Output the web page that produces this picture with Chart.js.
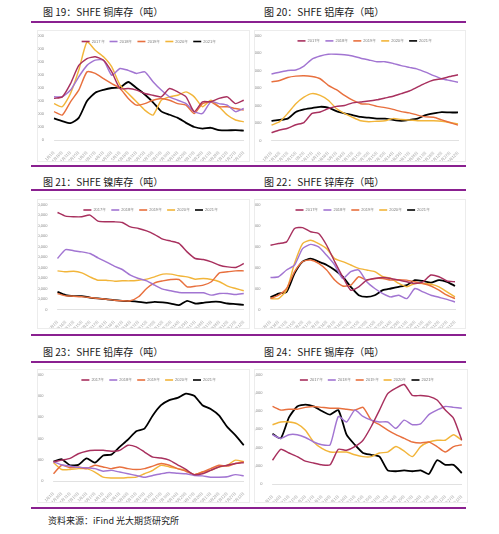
<!DOCTYPE html>
<html>
<head>
<meta charset="utf-8">
<script src="https://cdn.jsdelivr.net/npm/chart.js@4.4.1/dist/chart.umd.min.js"></script>
<style>
  body { margin: 0; background: #fff; }
  #page { position: relative; width: 499px; height: 534px; background: #fff; overflow: hidden; }
  .title { position: absolute; height: 12px; line-height: 12px; font-family: "Noto Sans CJK SC", sans-serif; font-size: 10px; font-weight: 400; color: #1a1a1a; white-space: nowrap; }
  .rule { position: absolute; left: 31px; width: 435px; height: 2px; background: #8a2090; }
  .box { position: absolute; border: 1px solid #ececec; box-sizing: border-box; }
  .box canvas { position: absolute; left: 0; top: 0; }
  #source { position: absolute; left: 48px; top: 514px; font-family: "Noto Sans CJK SC", sans-serif; font-size: 9px; color: #222; white-space: nowrap; }
</style>
</head>
<body>
<div id="page">
  <div class="title" style="left:43px;top:6px">图 19：SHFE 铜库存（吨）</div>
  <div class="title" style="left:264px;top:6px">图 20：SHFE 铝库存（吨）</div>
  <div class="rule" style="top:21px"></div>
  <div class="box" style="left:37px;top:30px;width:213px;height:132px"><canvas id="c1"></canvas></div>
  <div class="box" style="left:254px;top:30px;width:212px;height:132px"><canvas id="c2"></canvas></div>
  <div class="rule" style="top:165px"></div>

  <div class="title" style="left:43px;top:176px">图 21：SHFE 镍库存（吨）</div>
  <div class="title" style="left:264px;top:176px">图 22：SHFE 锌库存（吨）</div>
  <div class="rule" style="top:189px"></div>
  <div class="box" style="left:37px;top:199px;width:213px;height:130px"><canvas id="c3"></canvas></div>
  <div class="box" style="left:254px;top:199px;width:212px;height:130px"><canvas id="c4"></canvas></div>
  <div class="rule" style="top:334px"></div>

  <div class="title" style="left:43px;top:346px">图 23：SHFE 铅库存（吨）</div>
  <div class="title" style="left:264px;top:346px">图 24：SHFE 锡库存（吨）</div>
  <div class="rule" style="top:361px"></div>
  <div class="box" style="left:37px;top:369px;width:213px;height:134px"><canvas id="c5"></canvas></div>
  <div class="box" style="left:254px;top:369px;width:214px;height:134px"><canvas id="c6"></canvas></div>
  <div class="rule" style="top:507px"></div>

  <div id="source">资料来源：iFind 光大期货研究所</div>
</div>

<script>
// shared x axis (roughly every two weeks)
var dates = ['1月1日', '1月16日', '1月31日', '2月15日', '3月2日', '3月17日', '4月1日', '4月16日',
    '5月1日', '5月16日', '5月31日', '6月15日', '6月30日', '7月15日', '7月30日', '8月14日',
    '8月29日', '9月13日', '9月28日', '10月13日', '10月28日', '11月12日', '11月27日', '12月12日'];
var years = ['2017年', '2018年', '2019年', '2020年', '2021年'];
var colors = ['#a8305e', '#a275d2', '#e8703e', '#f2b53a', '#000000'];

// 图19 铜
var cu2017 = [16000, 16600, 21700, 28700, 31300, 32000, 30700, 26200, 19800, 19800, 19200, 17900, 17200, 16600, 19800, 18500, 16600, 10900, 14700, 14700, 16000, 16600, 14000, 15300];
var cu2018 = [16600, 16600, 19200, 24300, 28700, 30700, 30700, 24900, 27500, 26800, 25600, 26200, 22400, 19200, 16600, 15300, 14000, 10900, 10200, 14700, 14000, 13400, 10900, 12100];
var cu2019 = [10900, 9600, 14700, 19200, 26200, 25600, 23600, 21700, 19800, 16000, 13400, 14000, 15300, 16000, 15300, 14000, 13400, 10200, 14000, 14700, 12800, 12800, 12100, 11500];
var cu2020 = [14000, 12800, 17900, 26800, 37700, 34500, 32000, 28100, 21100, 17900, 14700, 11500, 9600, 15300, 16600, 17200, 18500, 16600, 12800, 15300, 12800, 9600, 7700, 7000];
var cu2021 = [8300, 7300, 6500, 8500, 15000, 18200, 19300, 20000, 20200, 22300, 20000, 17500, 14500, 11000, 9700, 8500, 6600, 5000, 4400, 4700, 3800, 3700, 3800, 3600];

// 图20 铝
var al2017 = [900, 1200, 1400, 1800, 2050, 3100, 3250, 3650, 3900, 4000, 4300, 4400, 4500, 4650, 4850, 5050, 5350, 5650, 6100, 6550, 6900, 7050, 7300, 7500];
var al2018 = [7600, 7800, 8000, 8050, 8500, 9300, 9650, 9850, 9850, 9800, 9650, 9400, 9200, 9000, 9000, 8800, 8550, 8350, 8150, 7800, 7400, 7050, 6850, 6650];
var al2019 = [6700, 6850, 7200, 7350, 7400, 7300, 7050, 6300, 5800, 5150, 4600, 4200, 4150, 3900, 3750, 3550, 3300, 3150, 2900, 2700, 2650, 2350, 2050, 1750];
var al2020 = [1750, 2150, 3100, 4200, 4950, 5350, 5150, 4600, 3650, 3100, 2650, 2250, 2150, 2200, 2250, 2500, 2400, 2350, 2250, 2250, 2250, 2200, 2050, 1900];
var al2021 = [2250, 2350, 2500, 3250, 3550, 3700, 3850, 3750, 3350, 3100, 2900, 2700, 2600, 2500, 2500, 2350, 2250, 2350, 2500, 2900, 3100, 3250, 3200, 3200];

// 图21 镍
var ni2017 = [92400, 88900, 88300, 88300, 89900, 84100, 83500, 83500, 82900, 78700, 77200, 74900, 71400, 67000, 65100, 62900, 54900, 48600, 47600, 45400, 42200, 40600, 40000, 43800];
var ni2018 = [48600, 57100, 55900, 54900, 53300, 49200, 45400, 41300, 38100, 32700, 29500, 27300, 23200, 19400, 17800, 16200, 15900, 15900, 15900, 13700, 15200, 15200, 14300, 15200];
var ni2019 = [15200, 13000, 12700, 12100, 11400, 10500, 9800, 8900, 8300, 8300, 12100, 20000, 25400, 27300, 28600, 28600, 21600, 22200, 23200, 26400, 34900, 35900, 36800, 36800];
var ni2020 = [36800, 35900, 36500, 34900, 31100, 27900, 27900, 27000, 27300, 27300, 27900, 28900, 31100, 33700, 33700, 32100, 31100, 28900, 29500, 28600, 26400, 22200, 20000, 17800];
var ni2021 = [16800, 13700, 12700, 12700, 11400, 10500, 9800, 8900, 8300, 7900, 7300, 6400, 7300, 6700, 5700, 4100, 8300, 5700, 6400, 7300, 7300, 5700, 5100, 4400];

// 图22 锌
var zn2017 = [15300, 15700, 16100, 19300, 19500, 18500, 18100, 15300, 11400, 7800, 4600, 5400, 7000, 7400, 7600, 7400, 7000, 6600, 6200, 6600, 8200, 7800, 6800, 6600];
var zn2018 = [7600, 7800, 9400, 10600, 14500, 15500, 14900, 12900, 10600, 7400, 9000, 9400, 6600, 5000, 3800, 3000, 3400, 2600, 5000, 4200, 3400, 2900, 2400, 1800];
var zn2019 = [2600, 3400, 5000, 9000, 11400, 11800, 11000, 9400, 7000, 5600, 5800, 7800, 7000, 7400, 7400, 7000, 7100, 7000, 6600, 6200, 5600, 4600, 3400, 2600];
var zn2020 = [2600, 2600, 4600, 11000, 15700, 16500, 15700, 14500, 12100, 11400, 10600, 9800, 9400, 9000, 7800, 7400, 6200, 5400, 6200, 6200, 6000, 5400, 4200, 3000];
var zn2021 = [2900, 3800, 4200, 8600, 11400, 12100, 11400, 10600, 9400, 7800, 5400, 3400, 3000, 3400, 4600, 5000, 5400, 5800, 7000, 6800, 6400, 7000, 6600, 5600];

// 图23 铅
var pb2017 = [4500, 4900, 5300, 6400, 7000, 7200, 7200, 7000, 7200, 8400, 8000, 6800, 5600, 5400, 4900, 3800, 2700, 1500, 1700, 2500, 3300, 3700, 4100, 4300];
var pb2018 = [4500, 3800, 3500, 3200, 3100, 2900, 2300, 2500, 2100, 1700, 1300, 900, 1300, 1700, 2000, 1800, 1700, 1300, 1200, 900, 900, 1000, 1500, 1200];
var pb2019 = [1700, 3700, 3100, 3300, 2900, 3700, 3300, 2900, 3300, 2900, 2700, 2900, 3500, 4100, 3700, 2900, 2300, 1500, 2100, 2900, 3700, 3500, 4100, 4500];
var pb2020 = [4300, 2700, 2700, 2900, 2900, 2100, 900, 700, 700, 800, 900, 1700, 2500, 3700, 3300, 2900, 2500, 1500, 2100, 2500, 3300, 3700, 4900, 4500];
var pb2021 = [4600, 5100, 3700, 3800, 5300, 4300, 6000, 6200, 8000, 9700, 11700, 12300, 15400, 17800, 19000, 19500, 20500, 20000, 17800, 16900, 15400, 12700, 10700, 8400];

// 图24 锡
var sn2017 = [2600, 3800, 3400, 3000, 2500, 2300, 2100, 2100, 3800, 3700, 4100, 4800, 6300, 8100, 9900, 10500, 10900, 9700, 9700, 9600, 9200, 8100, 7200, 4800];
var sn2018 = [5400, 5000, 5400, 5400, 5100, 4600, 4300, 4300, 7400, 6800, 8100, 7400, 7000, 6800, 6800, 6100, 7000, 6500, 6600, 7600, 8100, 8500, 8400, 8300];
var sn2019 = [8500, 8100, 8200, 8200, 8400, 8500, 8400, 8300, 8300, 8200, 8100, 8400, 7000, 6500, 5900, 5400, 5000, 4600, 4500, 4600, 4100, 3500, 4100, 4300];
var sn2020 = [6500, 6800, 6800, 6600, 5900, 4600, 3900, 3500, 3500, 3500, 3200, 3000, 3000, 3400, 3500, 4100, 3600, 3000, 4100, 4600, 4800, 4800, 5400, 4800];
var sn2021 = [5500, 5000, 7300, 8500, 8700, 8500, 8000, 7600, 8100, 5400, 4300, 3400, 3200, 3000, 1500, 1400, 1500, 1400, 1500, 1100, 2600, 2100, 2100, 1200];

// legend drawn inside the plot, like the Excel originals
var insideLegend = {
    id: 'insideLegend',
    afterDraw: function(chart) {
        let ctx = chart.ctx;
        let area = chart.chartArea;
        let sets = chart.data.datasets;
        ctx.save();
        ctx.font = '4px "Liberation Sans", sans-serif';
        let lineW = 8, gap = 2, space = 5;
        let widths = sets.map(function(d) { return lineW + gap + ctx.measureText(d.label).width; });
        let total = widths.reduce(function(a, b) { return a + b; }, 0) + space * (sets.length - 1);
        let x = (area.left + area.right) / 2 - total / 2;
        let y = area.top + 5.5;
        sets.forEach(function(d, i) {
            ctx.strokeStyle = d.borderColor;
            ctx.lineWidth = 1.6;
            ctx.beginPath();
            ctx.moveTo(x, y);
            ctx.lineTo(x + lineW, y);
            ctx.stroke();
            ctx.fillStyle = '#7a7a7a';
            ctx.textBaseline = 'middle';
            ctx.fillText(d.label, x + lineW + gap, y);
            x += widths[i] + space;
        });
        ctx.restore();
    }
};

function makeChart(id, w, h, series, yMax, yStep, geo) {
    let canvas = document.getElementById(id);
    canvas.width = w;
    canvas.height = h;
    canvas.style.width = w + 'px';
    canvas.style.height = h + 'px';
    let sets = series.map(function(vals, i) {
        return {
            label: years[i],
            data: vals,
            borderColor: colors[i],
            borderWidth: i == 4 ? 1.8 : 1.45,
            pointRadius: 0,
            tension: 0.2,
            fill: false
        };
    });
    return new Chart(canvas, {
        type: 'line',
        data: { labels: dates, datasets: sets },
        options: {
            responsive: false,
            animation: false,
            devicePixelRatio: 1,
            layout: { padding: { top: geo.top, right: geo.right, left: 0, bottom: 0 } },
            plugins: { legend: { display: false }, tooltip: { enabled: false } },
            scales: {
                x: {
                    offset: false,
                    grid: { display: false },
                    border: { color: '#d9d9d9', width: 0.8 },
                    ticks: {
                        autoSkip: false, minRotation: 45, maxRotation: 45, padding: 2,
                        color: '#a0a0a0', font: { size: 3.8, family: 'Noto Sans CJK SC' }
                    },
                    afterFit: function(s) { s.height = geo.xh; }
                },
                y: {
                    min: 0, max: yMax,
                    grid: { display: false },
                    border: { display: false },
                    ticks: {
                        stepSize: yStep, padding: 2,
                        color: '#8a8a8a', font: { size: 4, family: 'Liberation Sans' }
                    },
                    afterFit: function(s) { s.width = geo.yw; }
                }
            }
        },
        plugins: [insideLegend]
    });
}

makeChart('c1', 211, 130, [cu2017, cu2018, cu2019, cu2020, cu2021], 40000, 5000, { top: 5, right: 2, yw: 16, xh: 21 });
makeChart('c2', 210, 130, [al2017, al2018, al2019, al2020, al2021], 12000, 2000, { top: 3.5, right: 7, yw: 16.5, xh: 20.5 });
makeChart('c3', 211, 128, [ni2017, ni2018, ni2019, ni2020, ni2021], 100000, 10000, { top: 4.5, right: 4, yw: 19.5, xh: 18.5 });
makeChart('c4', 210, 128, [zn2017, zn2018, zn2019, zn2020, zn2021], 25000, 5000, { top: 4.5, right: 10, yw: 15.5, xh: 18.5 });
makeChart('c5', 211, 132, [pb2017, pb2018, pb2019, pb2020, pb2021], 25000, 5000, { top: 4.5, right: 1, yw: 15.5, xh: 21 });
makeChart('c6', 212, 132, [sn2017, sn2018, sn2019, sn2020, sn2021], 12000, 2000, { top: 4.5, right: 3, yw: 17.5, xh: 18 });
</script>
</body>
</html>
